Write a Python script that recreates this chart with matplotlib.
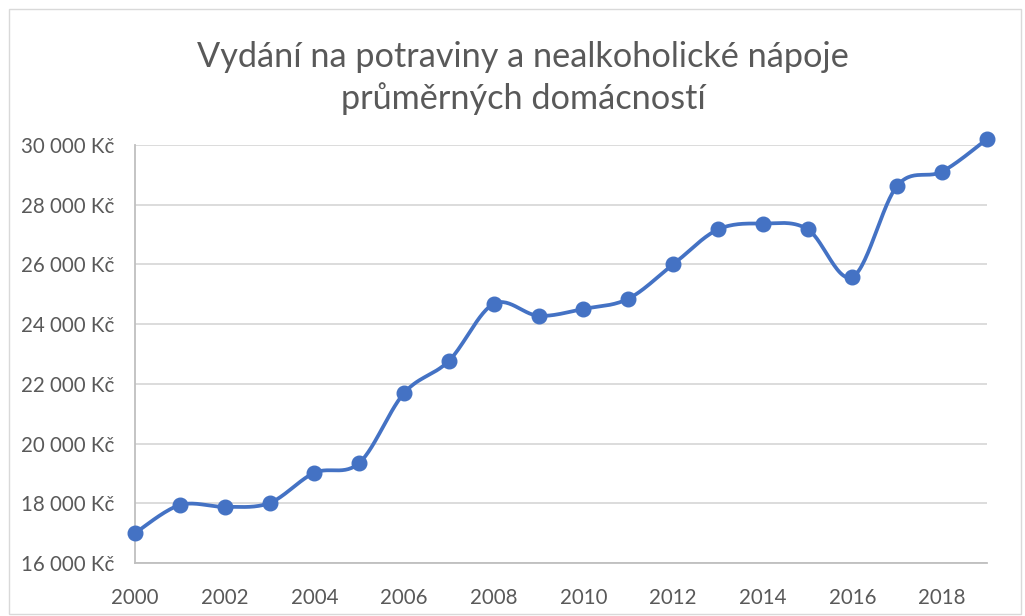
import numpy as np
import matplotlib
matplotlib.use("Agg")
import matplotlib.pyplot as plt
from matplotlib.patches import Rectangle
from matplotlib.ticker import FuncFormatter, MultipleLocator

years = [2000, 2001, 2002, 2003, 2004, 2005, 2006, 2007, 2008, 2009,
         2010, 2011, 2012, 2013, 2014, 2015, 2016, 2017, 2018, 2019]
values = [17000, 17940, 17880, 18010, 19020, 19350, 21690, 22770, 24680, 24280,
          24510, 24850, 26000, 27170, 27370, 27180, 25580, 28640, 29110, 30200]
title = "Vydání na potraviny a nealkoholické nápoje\nprůměrných domácností"

plt.rcParams['font.family'] = ['Lato', 'DejaVu Sans']
txt = '#595959'
blue = '#4472C4'

fig = plt.figure(figsize=(10.25, 6.16), dpi=100)
fig.patches.append(Rectangle((9/1025, 2/616), 1012/1025, 605/616, transform=fig.transFigure,
                             fill=False, edgecolor='#d9d9d9', linewidth=1))
ax = fig.add_axes([135/1025, 1 - 563/616, (987 - 135)/1025, (563 - 145)/616])

# Catmull-Rom smoothing (Excel-like smoothed line)
x = np.array(years, dtype=float)
y = np.array(values, dtype=float)
px = np.concatenate([[x[0]], x, [x[-1]]])
py = np.concatenate([[y[0]], y, [y[-1]]])
sx, sy = [], []
t = np.linspace(0, 1, 30)
for i in range(1, len(px) - 2):
    p0, p1, p2, p3 = (px[i-1], py[i-1]), (px[i], py[i]), (px[i+1], py[i+1]), (px[i+2], py[i+2])
    c1 = (p1[0] + (p2[0] - p0[0]) / 6, p1[1] + (p2[1] - p0[1]) / 6)
    c2 = (p2[0] - (p3[0] - p1[0]) / 6, p2[1] - (p3[1] - p1[1]) / 6)
    bx = (1-t)**3*p1[0] + 3*(1-t)**2*t*c1[0] + 3*(1-t)*t**2*c2[0] + t**3*p2[0]
    by = (1-t)**3*p1[1] + 3*(1-t)**2*t*c1[1] + 3*(1-t)*t**2*c2[1] + t**3*p2[1]
    sx.extend(bx); sy.extend(by)

ax.plot(sx, sy, color=blue, linewidth=2.7, solid_capstyle='round', zorder=3, clip_on=False)
ax.plot(x, y, 'o', color=blue, markersize=10.5, zorder=4, clip_on=False)

ax.set_xlim(2000, 2019)
ax.set_ylim(16000, 30000)
ax.xaxis.set_major_locator(MultipleLocator(2))
ax.yaxis.set_major_locator(MultipleLocator(2000))
ax.yaxis.set_major_formatter(FuncFormatter(lambda v, p: f"{int(v):,}".replace(",", " ") + " Kč"))
ax.grid(axis='y', color='#d9d9d9', linewidth=1.3)
ax.set_axisbelow(True)
for s in ['top', 'right']:
    ax.spines[s].set_visible(False)
for s in ['left', 'bottom']:
    ax.spines[s].set_color('#bfbfbf')
    ax.spines[s].set_linewidth(1.3)
ax.tick_params(axis='both', length=0, labelsize=14.8, colors=txt)
ax.tick_params(axis='y', pad=15)
ax.tick_params(axis='x', pad=18)

fig.text(523/1025, 1 - 78/616, title, ha='center', va='center', fontsize=24.7, color=txt, linespacing=1.35)

fig.savefig("out.png", dpi=100)
